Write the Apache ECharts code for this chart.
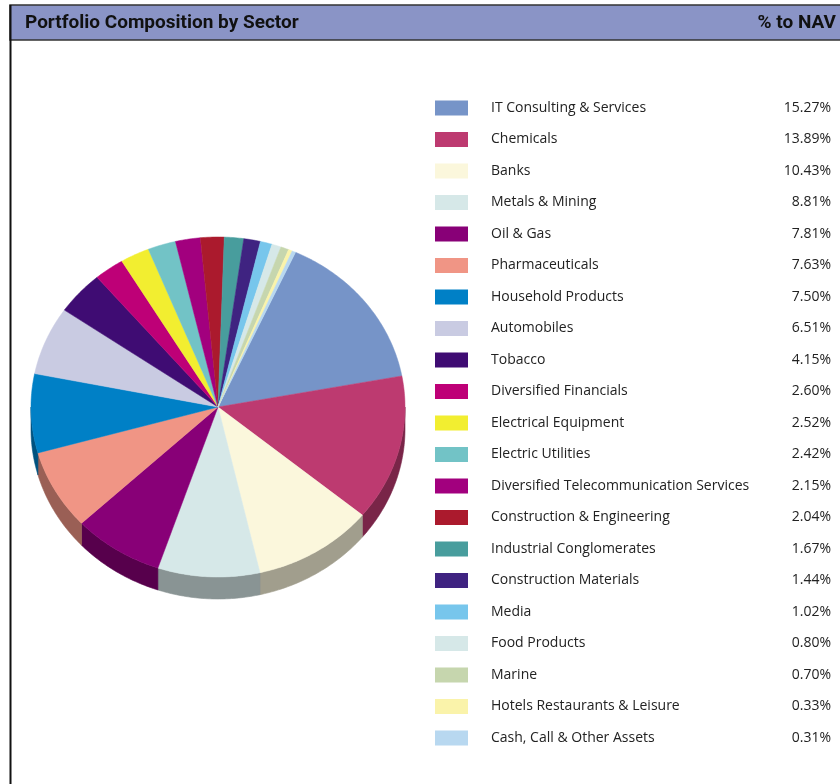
<!DOCTYPE html>
<html>
<head>
<meta charset="utf-8">
<script src="https://cdn.jsdelivr.net/npm/echarts@6/dist/echarts.min.js"></script>
<style>
  html, body { margin: 0; padding: 0; background: #ffffff; }
  #chart { width: 840px; height: 784px; }
</style>
</head>
<body>
<div id="chart"></div>
<script>
// Sector weights, % of net asset value
const sectors = [
  'IT Consulting & Services', 'Chemicals', 'Banks', 'Metals & Mining', 'Oil & Gas',
  'Pharmaceuticals', 'Household Products', 'Automobiles', 'Tobacco',
  'Diversified Financials', 'Electrical Equipment', 'Electric Utilities',
  'Diversified Telecommunication Services', 'Construction & Engineering',
  'Industrial Conglomerates', 'Construction Materials', 'Media', 'Food Products',
  'Marine', 'Hotels Restaurants & Leisure', 'Cash, Call & Other Assets'
];
const weights = [
  15.27, 13.89, 10.43, 8.81, 7.81,
  7.63, 7.50, 6.51, 4.15,
  2.60, 2.52, 2.42,
  2.15, 2.04,
  1.67, 1.44, 1.02, 0.80,
  0.70, 0.33, 0.31
];
const sectorColors = [
  '#7694c8', '#bd3a70', '#fbf7dc', '#d6e8e8', '#880077',
  '#f09585', '#0080c6', '#c9cbe2', '#3f0c73',
  '#be0077', '#f2ee30', '#72c3c6',
  '#a2007e', '#ab1a2d',
  '#489d9d', '#3f2381', '#77c6ec', '#d6e8e8',
  '#c6d6ae', '#faf3aa', '#b8d8f0'
];
const chartTitle = 'Portfolio Composition by Sector';
const valueHeader = '% to NAV';

// Tilted pie: elliptical top face plus an extruded front wall
const PIE = { cx: 218, cy: 407, rx: 187, ry: 170, depth: 22, startDeg: 24.5 };

const total = weights.reduce((a, b) => a + b, 0);
const offsets = [];
weights.reduce((acc, w) => { offsets.push(acc); return acc + w; }, 0);

function darken(hex, k) {
  const n = parseInt(hex.slice(1), 16);
  const r = Math.round(((n >> 16) & 255) * k);
  const g = Math.round(((n >> 8) & 255) * k);
  const b = Math.round((n & 255) * k);
  return 'rgb(' + r + ',' + g + ',' + b + ')';
}

// angle in degrees, clockwise from 12 o'clock
function rim(deg, dy) {
  const t = deg * Math.PI / 180;
  return [PIE.cx + PIE.rx * Math.sin(t), PIE.cy - PIE.ry * Math.cos(t) + dy];
}

function arcPoints(a0, a1, dy) {
  const pts = [];
  const n = Math.max(2, Math.ceil(Math.abs(a1 - a0) / 0.75));
  for (let i = 0; i <= n; i++) pts.push(rim(a0 + (a1 - a0) * i / n, dy));
  return pts;
}

function renderSlice(params, api) {
  const a0 = PIE.startDeg + api.value(0) / total * 360;
  const a1 = PIE.startDeg + (api.value(0) + api.value(1)) / total * 360;
  const color = api.visual('color');
  const children = [];

  // front wall, visible between 90° and 270°
  const s0 = Math.max(a0, 90), s1 = Math.min(a1, 270);
  if (s1 > s0) {
    const wall = arcPoints(s0, s1, 0).concat(arcPoints(s1, s0, PIE.depth));
    const side = darken(color, 0.64);
    children.push({
      type: 'polygon', z2: 1,
      shape: { points: wall },
      style: { fill: side, stroke: side, lineWidth: 0.6 }
    });
  }

  // top face
  const face = [[PIE.cx, PIE.cy]].concat(arcPoints(a0, a1, 0));
  children.push({
    type: 'polygon', z2: 10,
    shape: { points: face },
    style: { fill: color, stroke: color, lineWidth: 0.5 }
  });
  return { type: 'group', children: children };
}

const valueByName = {};
sectors.forEach((s, i) => { valueByName[s] = weights[i].toFixed(2) + '%'; });

const series = sectors.map((name, i) => ({
  type: 'custom',
  name: name,
  coordinateSystem: 'none',
  renderItem: renderSlice,
  itemStyle: { color: sectorColors[i] },
  emphasis: { disabled: true },
  data: [[offsets[i], weights[i]]]
}));

const chart = echarts.init(document.getElementById('chart'), null, { renderer: 'canvas' });
chart.setOption({
  backgroundColor: '#ffffff',
  animation: false,
  graphic: [
    {
      type: 'rect', z: 0,
      shape: { x: 10, y: 5, width: 840, height: 35 },
      style: { fill: '#8a94c6', stroke: '#333333', lineWidth: 1.5 }
    },
    {
      type: 'line', z: 1,
      shape: { x1: 10.5, y1: 5, x2: 10.5, y2: 784 },
      style: { stroke: '#111111', lineWidth: 2 }
    },
    {
      type: 'text', z: 2,
      style: {
        x: 25, y: 23.5, text: chartTitle, fill: '#111111',
        font: 'bold 19px Roboto', verticalAlign: 'middle'
      }
    },
    {
      type: 'text', z: 2,
      style: {
        x: 836, y: 23.5, text: valueHeader, fill: '#111111',
        font: 'bold 19px Roboto', align: 'right', verticalAlign: 'middle'
      }
    }
  ],
  legend: {
    orient: 'vertical',
    left: 435,
    top: 100.5,
    padding: 0,
    icon: 'rect',
    itemWidth: 33,
    itemHeight: 15,
    itemGap: 16.5,
    selectedMode: false,
    data: sectors,
    formatter: name => '{g| }{n|' + name + '}{v|' + valueByName[name] + '}',
    textStyle: {
      color: '#222222',
      fontFamily: 'Open Sans',
      fontSize: 14,
      lineHeight: 15,
      rich: {
        g: { width: 18 },
        n: { width: 280, fontFamily: 'Open Sans', fontSize: 14, color: '#222222' },
        v: { width: 60, align: 'right', fontFamily: 'Open Sans', fontSize: 14, color: '#222222' }
      }
    }
  },
  series: series
});
</script>
</body>
</html>
